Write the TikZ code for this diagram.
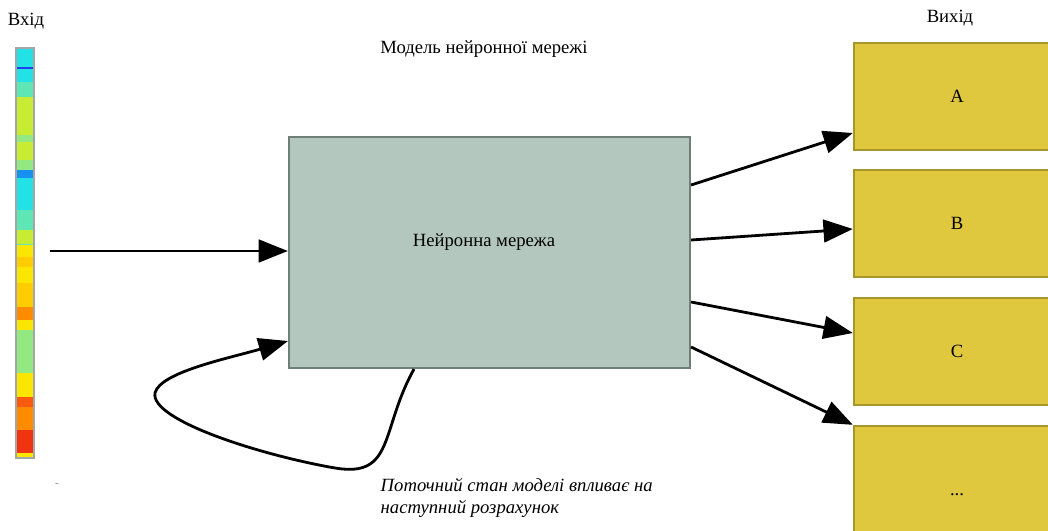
\documentclass[tikz,border=0pt]{standalone}
\usepackage{fontspec}
\setmainfont{Liberation Serif}
\usepackage{xcolor}
\usetikzlibrary{arrows.meta, positioning}

\definecolor{netfill}{HTML}{B3C7BF}
\definecolor{netdraw}{HTML}{6F7E77}
\definecolor{outfill}{HTML}{E0C83E}
\definecolor{outdraw}{HTML}{A8952E}
% colours of the input strip
\definecolor{jcyan}{HTML}{22E2E6}
\definecolor{jblue}{HTML}{2040F0}
\definecolor{jazure}{HTML}{1890F0}
\definecolor{jaqua}{HTML}{5EE6B4}
\definecolor{jlgreen}{HTML}{94E882}
\definecolor{jygreen}{HTML}{C8EC34}
\definecolor{jyellow}{HTML}{FAE600}
\definecolor{jyorange}{HTML}{FFCC00}
\definecolor{jorange}{HTML}{FF8C00}
\definecolor{jrorange}{HTML}{F85A10}
\definecolor{jred}{HTML}{F03412}

\begin{document}
\begin{tikzpicture}[x=0.75pt, y=-0.75pt, font=\fontsize{14}{16}\selectfont,
    netbox/.style={draw=netdraw, line width=1.6pt, fill=netfill,
        minimum width=300.75pt, minimum height=173.25pt},
    outbox/.style={draw=outdraw, line width=1.8pt, fill=outfill,
        minimum width=154.5pt, minimum height=80.25pt},
    arr/.style={-{Triangle[length=22pt, width=17pt]}, line width=2.1pt}]
    \useasboundingbox (0,0) rectangle (1048,531);

    % Input strip
    \foreach \ya/\yb/\c in {48/67/jcyan, 67/69/jblue, 69/82/jcyan, 82/97/jaqua,
        97/135/jygreen, 135/142/jlgreen, 142/160/jygreen, 160/170/jlgreen,
        170/178/jazure, 178/210/jcyan, 210/230/jaqua, 230/244/jygreen,
        244/245/jaqua, 245/257/jyellow, 257/267/jyorange, 267/283/jyellow,
        283/307/jyorange, 307/320/jorange, 320/330/jyellow, 330/373/jlgreen,
        373/397/jyellow, 397/407/jrorange, 407/430/jorange, 430/453/jred,
        453/458/jyellow}
        \fill[\c] (16,\ya) rectangle (34,\yb);
    \node[draw=gray!70, line width=0.8pt, minimum width=13.5pt,
        minimum height=307.5pt] (bar) at (25,253) {};
    \node (inlab) at (26,21) {Вхід};
    \node[text=gray] (dash) at (57,485) {\footnotesize -};
    \coordinate (in) at (50,251);

    % Network
    \node (title) at (484,49) {Модель нейронної мережі};
    \node[netbox] (net) at (489.5,252.5) {};
    \node (netlab) at (484,242) {Нейронна мережа};

    % Outputs
    \node (outlab) at (950,18) {Вихід};
    \node[outbox] (a) at (957,96.5) {A};
    \node[outbox] (b) at (957,223.5) {\raisebox{-3pt}{B}};
    \node[outbox] (c) at (957,351.5) {\raisebox{-2pt}{C}};
    \node[outbox, minimum height=103.5pt] (d) at (957,495) {...};

    % Arrows
    \draw[arr] (in) -- (net.west |- in);
    \draw[arr] (net.east |- 0,185) -- (a.west |- 0,133);
    \draw[arr] (net.east |- 0,240) -- (b.west |- 0,229);
    \draw[arr] (net.east |- 0,302) -- (c.west |- 0,333);
    \draw[arr] (net.east |- 0,347) -- (d.north west);

    % Feedback loop
    \draw[arr] (net.south -| 414,0) .. controls (380,430) and (395,478) .. (335,468)
        .. controls (260,455) and (150,420) .. (155,393)
        .. controls (160,372) and (230,358) .. (net.west |- 0,341);
    \node[anchor=north west, align=left,
        font=\fontsize{14}{16.5}\selectfont\itshape] (note) at (376,474)
        {Поточний стан моделі впливає на\\наступний розрахунок};
\end{tikzpicture}
\end{document}
